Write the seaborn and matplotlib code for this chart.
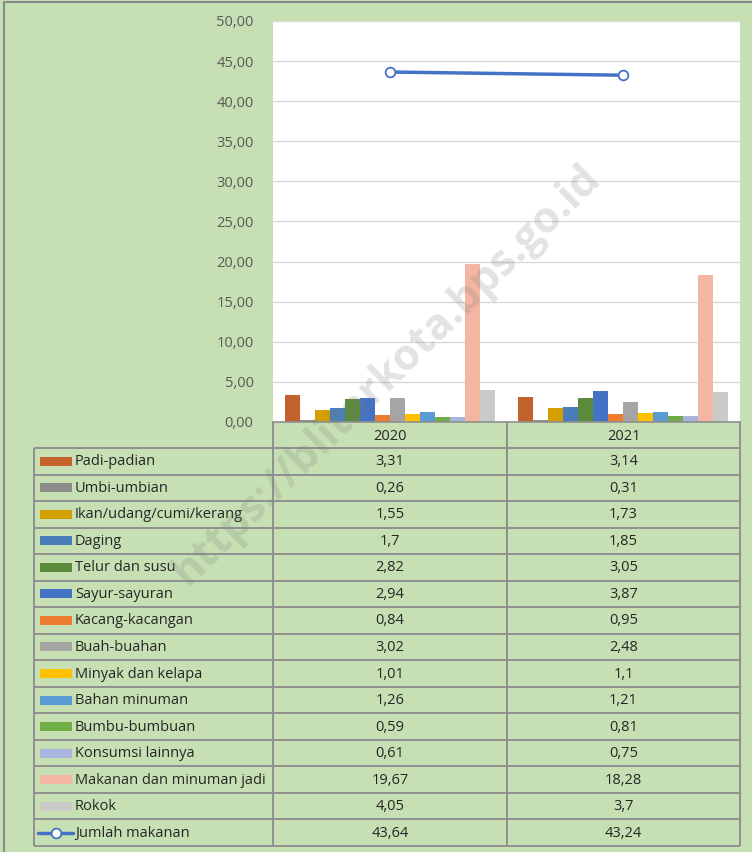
import matplotlib
matplotlib.use("Agg")
import matplotlib.pyplot as plt
import matplotlib.patches as mpatches
import pandas as pd
import seaborn as sns

# data
years = ["2020", "2021"]
categories = [
    "Padi-padian", "Umbi-umbian", "Ikan/udang/cumi/kerang", "Daging",
    "Telur dan susu", "Sayur-sayuran", "Kacang-kacangan", "Buah-buahan",
    "Minyak dan kelapa", "Bahan minuman", "Bumbu-bumbuan", "Konsumsi lainnya",
    "Makanan dan minuman jadi", "Rokok",
]
values_2020 = [3.31, 0.26, 1.55, 1.70, 2.82, 2.94, 0.84, 3.02, 1.01, 1.26, 0.59, 0.61, 19.67, 4.05]
values_2021 = [3.14, 0.31, 1.73, 1.85, 3.05, 3.87, 0.95, 2.48, 1.10, 1.21, 0.81, 0.75, 18.28, 3.70]
total_label = "Jumlah makanan"
total = [43.64, 43.24]
# how the values are printed in the table (as in the source)
labels_2020 = ["3,31", "0,26", "1,55", "1,7", "2,82", "2,94", "0,84", "3,02", "1,01", "1,26", "0,59", "0,61", "19,67", "4,05", "43,64"]
labels_2021 = ["3,14", "0,31", "1,73", "1,85", "3,05", "3,87", "0,95", "2,48", "1,1", "1,21", "0,81", "0,75", "18,28", "3,7", "43,24"]

colors = [
    "#C4622D", "#8C8C8C", "#D4A000", "#4A7EB8", "#5A8A3A", "#4472C4", "#ED7D31",
    "#A5A5A5", "#FFC000", "#5B9BD5", "#70AD47", "#A9B4DE", "#F4B6A3", "#CACACA",
]
line_color = "#4472C4"

BG = "#C6E0B4"
GRID_LINE = "#8F8F8F"
TEXT = "#262626"
FS = 10.5

sns.set_theme(style="white")
plt.rcParams["font.family"] = ["Open Sans", "DejaVu Sans"]

W, H = 752, 852
fig = plt.figure(figsize=(W / 100, H / 100), dpi=100, facecolor=BG)

# plot area in pixels
x0, x1, y_top, y_base = 273, 740, 21, 422
ax = fig.add_axes([x0 / W, 1 - y_base / H, (x1 - x0) / W, (y_base - y_top) / H])
ax.set_facecolor("white")

df = pd.DataFrame({
    "year": years * len(categories),
    "category": [c for c in categories for _ in years],
    "value": [v for pair in zip(values_2020, values_2021) for v in pair],
})
sns.barplot(
    data=df, x="year", y="value", hue="category", hue_order=categories,
    order=years, palette=colors, width=0.9, linewidth=0, saturation=1,
    ax=ax, legend=False,
)
sns.pointplot(
    x=years, y=total, order=years, color=line_color, markers="o",
    linewidth=2.5, markersize=7, markerfacecolor="white",
    markeredgecolor=line_color, markeredgewidth=1.3, ax=ax,
)

ax.set_xlim(-0.5, 1.5)
ax.set_ylim(0, 50)
ax.set_yticks(range(0, 51, 5))
ax.set_yticklabels([f"{v:.2f}".replace(".", ",") for v in range(0, 51, 5)],
                   color="#595959", fontsize=FS)
ax.tick_params(axis="y", length=0, pad=14)
ax.set_xticks([])
ax.set_xlabel("")
ax.set_ylabel("")
ax.grid(axis="y", color="#D9D9D9", lw=1)
ax.set_axisbelow(True)
for side in ["top", "right", "left"]:
    ax.spines[side].set_visible(False)
ax.spines["bottom"].set_color(GRID_LINE)
ax.spines["bottom"].set_linewidth(1.2)

# data table drawn in pixel coordinates
tab = fig.add_axes([0, 0, 1, 1], facecolor="none")
tab.set_xlim(0, W)
tab.set_ylim(H, 0)
tab.axis("off")

t_left, c1, c2, t_right = 34, 273, 507, 740
head_top, head_bot = 422, 448
row_h = 26.53
n_rows = len(categories) + 1
t_bot = head_bot + row_h * n_rows

line_kw = dict(color=GRID_LINE, lw=1.4, solid_capstyle="butt")
for x in [c1, c2, t_right]:
    tab.plot([x, x], [head_top, t_bot], **line_kw)
tab.plot([t_left, t_left], [head_bot, t_bot], **line_kw)
for i in range(n_rows + 1):
    y = head_bot + row_h * i
    tab.plot([t_left, t_right], [y, y], **line_kw)

tab.text((c1 + c2) / 2, (head_top + head_bot) / 2 + 1, years[0], ha="center", va="center",
         fontsize=FS, color=TEXT)
tab.text((c2 + t_right) / 2, (head_top + head_bot) / 2 + 1, years[1], ha="center", va="center",
         fontsize=FS, color=TEXT)

row_names = categories + [total_label]
for i, name in enumerate(row_names):
    yc = head_bot + row_h * (i + 0.5)
    if i < len(categories):
        tab.add_patch(mpatches.Rectangle((40, yc - 4.5), 32, 9, color=colors[i], lw=0))
    else:
        tab.plot([38, 73], [yc, yc], color=line_color, lw=2.5)
        tab.plot([56], [yc], marker="o", ms=7, mfc="white", mec=line_color, mew=1.3)
    tab.text(75, yc + 0.5, name, ha="left", va="center", fontsize=FS, color=TEXT)
    tab.text((c1 + c2) / 2, yc + 0.5, labels_2020[i], ha="center", va="center",
             fontsize=FS, color=TEXT)
    tab.text((c2 + t_right) / 2, yc + 0.5, labels_2021[i], ha="center", va="center",
             fontsize=FS, color=TEXT)

# outer frame (top and left edges visible in the source)
tab.plot([4, W], [2, 2], color="#8A8A8A", lw=1.5)
tab.plot([4, 4], [2, H], color="#8A8A8A", lw=1.5)

# watermark
fig.text(0.515, 0.56, "https://blitarkota.bps.go.id", rotation=44.5, ha="center", va="center",
         fontsize=31, fontweight="bold", color="#7F7F7F", alpha=0.22)

fig.savefig("out.png", dpi=100, facecolor=BG)
